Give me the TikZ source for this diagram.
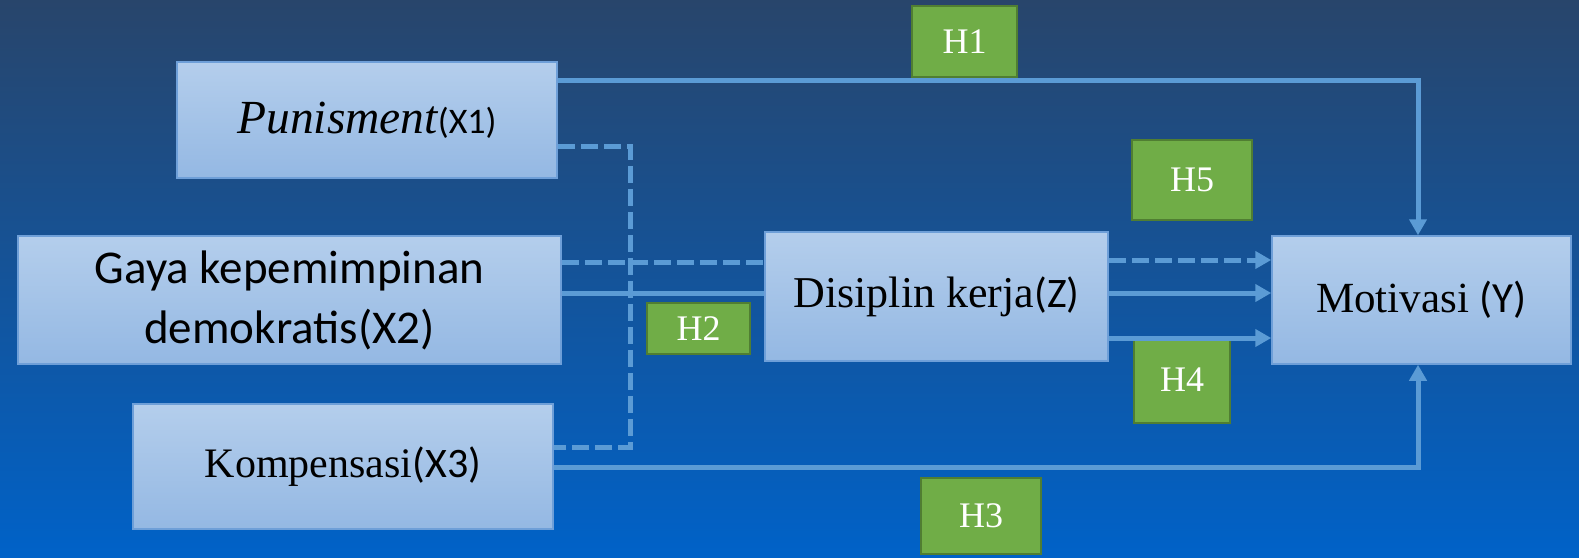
\documentclass[tikz,border=0pt]{standalone}
\usepackage{fontspec}
\setmainfont{Liberation Serif}
\newfontfamily\calib{Carlito}
\usetikzlibrary{arrows.meta}
\definecolor{bgtop}{HTML}{28456B}
\definecolor{bgmid}{HTML}{13539C}
\definecolor{bgbot}{HTML}{0062C8}
\definecolor{boxtop}{HTML}{B4CEEC}
\definecolor{boxbot}{HTML}{94B8E3}
\definecolor{boxline}{HTML}{6E9FD8}
\definecolor{lineblue}{HTML}{5B9BD5}
\definecolor{hgreen}{HTML}{70AD47}
\definecolor{hline}{HTML}{507E32}
\begin{document}
\begin{tikzpicture}[x=1pt,y=-1pt,
  box/.style={draw=boxline, line width=1.5pt, top color=boxtop, bottom color=boxbot, inner sep=0pt, text=black},
  hbox/.style={draw=hline, line width=2pt, fill=hgreen, text=white, inner sep=0pt, font=\fontsize{36}{40}\selectfont},
  conn/.style={draw=lineblue, line width=5pt},
  dconn/.style={conn, dash pattern=on 17pt off 6pt},
  arrowend/.style={-{Triangle[length=16pt,width=17pt]}}
]
\useasboundingbox (0,0) rectangle (1579,557);
\shade[top color=bgtop, middle color=bgmid, bottom color=bgbot] (0,0) rectangle (1579,557);

% main boxes
\node[box, minimum width=380pt, minimum height=116pt] (x1) at (367,120)
  {\fontsize{47.5}{55}\selectfont\itshape Punisment\upshape{\calib\fontsize{36}{40}\selectfont(X1)}};
\node[box, minimum width=543pt, minimum height=128pt, align=center, font=\calib\fontsize{47}{60}\selectfont] (x2) at (289.5,300)
  {Gaya kepemimpinan\\demokratis(X2)};
\node[box, minimum width=420pt, minimum height=125pt] (x3) at (343,466.5)
  {\fontsize{42}{50}\selectfont Kompensasi{\calib(X3)}};
\node[box, minimum width=343pt, minimum height=129pt] (z) at (936.5,296.5)
  {\fontsize{44}{50}\selectfont Disiplin kerja{\calib\fontsize{42}{50}\selectfont(Z)}};
\node[box, minimum width=299pt, minimum height=128pt] (y) at (1421.5,300)
  {\fontsize{43}{50}\selectfont Motivasi {\calib(Y)}};

% hypothesis labels
\node[hbox, minimum width=105pt, minimum height=71pt] (h1) at (964.5,41.5) {H1};
\node[hbox, minimum width=120pt, minimum height=80pt] (h5) at (1192,180) {H5};
\node[hbox, minimum width=103pt, minimum height=51pt] (h2) at (698.5,328.5) {H2};
\node[hbox, minimum width=96pt, minimum height=86pt] (h4) at (1182,380) {H4};
\node[hbox, minimum width=120pt, minimum height=76pt] (h3) at (981,516) {H3};

% helper coordinates
\coordinate (k1) at (1418,80);
\coordinate (k3) at (1418,467);
\coordinate (b1) at (630,146);
\coordinate (b2) at (630,447);
\coordinate (r1) at (0,262);
\coordinate (r2) at (0,293);
\coordinate (s1) at (0,260);
\coordinate (s2) at (0,293);
\coordinate (s3) at (0,338);

% connectors
\draw[conn, arrowend] (x1.east |- k1) -- (k1) -- (k1 |- y.north);
\draw[dconn] (x1.east |- b1) -- (b1) -- (b2) -- (x3.east |- b2);
\draw[dconn] (x2.east |- r1) -- (z.west |- r1);
\draw[conn] (x2.east |- r2) -- (z.west |- r2);
\draw[dconn, arrowend] (z.east |- s1) -- (y.west |- s1);
\draw[conn, arrowend] (z.east |- s2) -- (y.west |- s2);
\draw[conn, arrowend] (z.east |- s3) -- (y.west |- s3);
\draw[conn, arrowend] (x3.east |- k3) -- (k3) -- (k3 |- y.south);
\end{tikzpicture}
\end{document}
